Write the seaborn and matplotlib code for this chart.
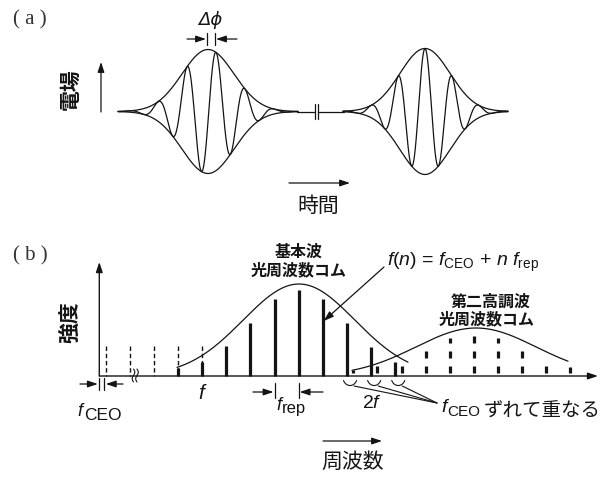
import numpy as np
import matplotlib
matplotlib.use("Agg")
import matplotlib.pyplot as plt
import seaborn as sns

# ---------------- (a) pulse train in the time domain ----------------
pulse_centres = [208, 425]        # envelope peak positions
pulse_widths = [26, 25]           # Gaussian envelope widths
pulse_amps = [62, 63]             # envelope peak amplitudes
carrier_periods = [29, 27]        # optical carrier periods
carrier_shifts = [8, 0]           # carrier peak offset from envelope peak (Δφ)
pulse_spans = [(118, 298), (343, 508)]
time_axis_segments = [(297, 314.5), (317.8, 344)]

# ---------------- (b) frequency comb spectrum ----------------
f_ceo = 6.5                       # carrier-envelope offset frequency
f_rep = 24.1                      # repetition frequency (mode spacing)
freq_origin = 99.3                # zero frequency
ghost_modes = [0, 1, 2, 3, 4]     # low modes, drawn dashed
ghost_height = 30
fund_modes = list(range(3, 13))
fund_heights = [8, 14, 30, 53, 77, 86, 77, 53, 29, 14]
shg_modes = list(range(10, 20))
shg_heights = [6, 10, 10, 25, 38, 40, 38, 25, 10, 9]
fund_env = dict(centre=299, height=92, width=56, span=(177, 408))
shg_env = dict(centre=476, height=48, width=60, span=(352, 568))
overlap_modes = [10, 11, 12]      # fundamental modes overlapping with SHG modes

sns.set_theme(style="white")
plt.rcParams["font.family"] = ["Noto Sans CJK JP", "DejaVu Sans"]
plt.rcParams["lines.scale_dashes"] = False
plt.rcParams["mathtext.fontset"] = "custom"
plt.rcParams["mathtext.it"] = "Liberation Sans:italic"
plt.rcParams["mathtext.rm"] = "Liberation Sans"
plt.rcParams["mathtext.sf"] = "Liberation Sans"

INK = "#141414"
W, H = 606, 478
fig = plt.figure(figsize=(W / 100, H / 100), dpi=100)
ax = fig.add_axes([0, 0, 1, 1])
ax.set_xlim(0, W)
ax.set_ylim(H, 0)
ax.axis("off")


def arrow(tail, tip, lw=0.9, scale=10):
    ax.annotate("", xy=tip, xytext=tail,
                arrowprops=dict(arrowstyle="-|>,head_length=0.6,head_width=0.2",
                                color=INK, lw=lw, mutation_scale=scale,
                                shrinkA=0, shrinkB=0))


def sub_label(x, y, sub, size, subsize, dx, dy):
    ax.text(x, y, "f", fontsize=size, family="Liberation Sans", style="italic",
            color=INK, ha="left", va="center")
    ax.text(x + dx, y + dy, sub, fontsize=subsize, family="Liberation Sans",
            color=INK, ha="left", va="center")


# ---------- panel (a) ----------
BASE_A = 111.5
for (x0, x1) in time_axis_segments:
    ax.plot([x0, x1], [BASE_A, BASE_A], color=INK, lw=0.9)
for bx in (314.5, 317.8):
    ax.plot([bx, bx], [104, 119], color=INK, lw=0.9)

for c, w, a, T, s, (t0, t1) in zip(pulse_centres, pulse_widths, pulse_amps,
                                     carrier_periods, carrier_shifts, pulse_spans):
    t = np.linspace(t0, t1, 800)
    env = a * np.exp(-0.5 * ((t - c) / w) ** 2)
    field = env * np.cos(2 * np.pi * (t - c - s) / T)
    for y in (BASE_A - env, BASE_A + env, BASE_A - field):
        sns.lineplot(x=t, y=y, ax=ax, color=INK, lw=0.9, sort=False,
                     estimator=None)

# Δφ marker between envelope peak and carrier peak
c0, s0 = pulse_centres[0], carrier_shifts[0]
for tx in (c0 - 1, c0 + s0 - 1):
    ax.plot([tx, tx], [33, 45], color=INK, lw=0.9)
arrow((187, 39), (c0 - 2, 39))
arrow((237, 39), (c0 + s0, 39))
ax.text(210, 20, "Δϕ", fontsize=13, family="DejaVu Sans", style="italic",
        color=INK, ha="center", va="center")

ax.text(30, 20, "( a )", fontsize=15, family="Liberation Serif", color="#333333",
        ha="center", va="center")
ax.text(70, 89, "電場", fontsize=15, rotation=90, color=INK, ha="center",
        va="center", fontweight="bold")
arrow((101, 112), (101, 62))
arrow((289, 183), (350, 183))
ax.text(318, 206, "時間", fontsize=15, color=INK, ha="center", va="center")

# ---------- panel (b) ----------
BASE_B = 376
arrow((freq_origin, BASE_B), (freq_origin, 262), lw=1.0)
arrow((freq_origin, BASE_B), (598, BASE_B), lw=1.0)

# axis break squiggles
for bx in (133.5, 137):
    yy = np.linspace(369, 382, 40)
    ax.plot(bx + 1.3 * np.sin((yy - 369) / 13 * 2 * np.pi), yy,
            color=INK, lw=0.8)

fund_x = {n: freq_origin + f_ceo + n * f_rep for n in range(0, 20)}
shg_x = {m: freq_origin + 2 * f_ceo + m * f_rep for m in range(0, 21)}

# unresolved low-frequency modes
for n in ghost_modes:
    ax.plot([fund_x[n], fund_x[n]], [BASE_B - ghost_height, BASE_B],
            color=INK, lw=1.0, linestyle=(0, (3.2, 2.0)))

# fundamental comb
ax.vlines([fund_x[n] for n in fund_modes],
          [BASE_B - h for h in fund_heights], BASE_B,
          color=INK, lw=2.3)

# second-harmonic comb, drawn as dashed teeth
for m, h in zip(shg_modes, shg_heights):
    x = shg_x[m]
    ax.plot([x, x], [BASE_B, BASE_B - h], color=INK, lw=2.3,
            linestyle=(8.64, (5.04, 5.76)), solid_capstyle="butt")

# spectral envelopes
for env in (fund_env, shg_env):
    f = np.linspace(*env["span"], 400)
    amp = env["height"] * np.exp(-0.5 * ((f - env["centre"]) / env["width"]) ** 2)
    sns.lineplot(x=f, y=BASE_B - amp, ax=ax, color=INK, lw=0.9, sort=False,
                 estimator=None)

# f_CEO spacing marker
for tx in (freq_origin, fund_x[0] - 1.5):
    ax.plot([tx, tx], [378, 390], color=INK, lw=0.9)
arrow((80, 384), (freq_origin - 1.5, 384))
arrow((123, 384), (fund_x[0], 384))
sub_label(77, 411, "CEO", 13, 12.5, 7.5, 4)

# f_rep spacing marker
for n in (7, 8):
    ax.plot([fund_x[n], fund_x[n]], [383, 398], color=INK, lw=0.9)
arrow((253, 392), (fund_x[7] - 1, 392))
arrow((323, 392), (fund_x[8] + 1, 392))
sub_label(276, 406, "rep", 13, 12, 6, 3)

ax.text(203, 393, r"$f$", fontsize=15, color=INK, ha="center", va="center")
ax.text(372, 402, r"$2f$", fontsize=14, color=INK, ha="center", va="center")

# overlap brackets and leader lines
for n in overlap_modes:
    cx = (fund_x[n] + shg_x[n]) / 2
    th = np.linspace(0.12 * np.pi, 0.88 * np.pi, 40)
    ax.plot(cx + 7 * np.cos(th), 377.5 + 8 * np.sin(th), color=INK, lw=0.8)
    ax.plot([cx + 4, 437], [386, 403], color=INK, lw=0.8)

sub_label(441, 407, "CEO", 14, 11, 6.5, 5)
ax.text(542, 411, "ずれて重なる", fontsize=14, color=INK, ha="center",
        va="center")

# comb labels
ax.text(299, 252, "基本波", fontsize=11.5, color=INK, ha="center",
        va="center", fontweight="bold")
ax.text(299, 270, "光周波数コム", fontsize=11.5, color=INK, ha="center",
        va="center", fontweight="bold")
ax.text(491, 302, "第二高調波", fontsize=11.5, color=INK, ha="center",
        va="center", fontweight="bold")
ax.text(487, 319, "光周波数コム", fontsize=11.5, color=INK, ha="center",
        va="center", fontweight="bold")
ax.text(387, 262, r"$f(n)$ = $f_{\mathrm{CEO}}$ + $n\ f_{\mathrm{rep}}$",
        fontsize=14, family="Liberation Sans", color=INK, ha="left",
        va="center")
arrow((384, 267), (fund_x[9] + 1, 321))

ax.text(30, 256, "( b )", fontsize=15, family="Liberation Serif", color="#333333",
        ha="center", va="center")
ax.text(70, 322, "強度", fontsize=15, rotation=90, color=INK, ha="center",
        va="center", fontweight="bold")
arrow((323, 441), (382, 441))
ax.text(353, 462, "周波数", fontsize=15, color=INK, ha="center", va="center")

fig.savefig("out.png", dpi=100, facecolor="white")
